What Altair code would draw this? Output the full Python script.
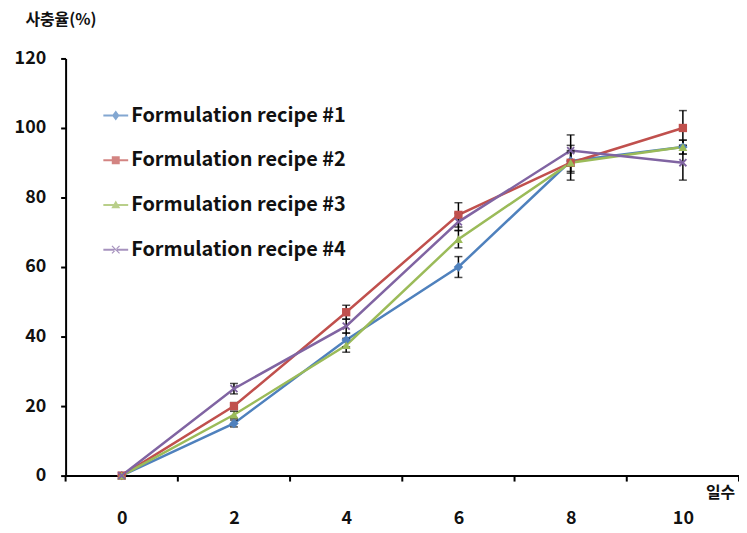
import altair as alt
import pandas as pd

# ---- data ----
days = [0, 2, 4, 6, 8, 10]
series_names = ["Formulation recipe #1", "Formulation recipe #2",
                "Formulation recipe #3", "Formulation recipe #4"]
recipe1 = [0, 15, 39, 60, 90.5, 94.5]
recipe2 = [0, 20, 47, 75, 90, 100]
recipe3 = [0, 17.5, 37.5, 68, 90, 94.5]
recipe4 = [0, 25, 43, 73, 93.5, 90]
err1 = [0, 1, 2, 3, 3, 2]
err2 = [0, 1, 2, 3.5, 5, 5]
err3 = [0, 1, 2, 2.5, 3, 2]
err4 = [0, 1.5, 2, 2.5, 4.5, 5]
category_bounds = [-1, 1, 3, 5, 7, 9, 11]
y_ticks = [0, 20, 40, 60, 80, 100, 120]

rows = []
for name, vals, errs in zip(series_names, [recipe1, recipe2, recipe3, recipe4],
                            [err1, err2, err3, err4]):
    for d, v, e in zip(days, vals, errs):
        rows.append({"day": d, "value": v, "err": e, "series": name,
                     "lo": v - e, "hi": v + e})
df = pd.DataFrame(rows)
bounds_df = pd.DataFrame({"day": category_bounds})

FONT = "Noto Sans CJK KR"
colors = ["#4F81BD", "#C0504D", "#9BBB59", "#8064A2"]
color_scale = alt.Scale(domain=series_names, range=colors)
x_scale = alt.Scale(domain=[-1, 11], nice=False, zero=False)
y_scale = alt.Scale(domain=[0, 120], nice=False)

x_axis = alt.Axis(values=days, ticks=False, grid=False, title="일수",
                  labelPadding=34, labelFont=FONT, labelFontSize=18,
                  labelFontWeight="bold", labelColor="#111",
                  titleFont=FONT, titleFontSize=16, titleFontWeight="bold",
                  titleColor="#111", titleX=659, titleY=17,
                  titleAlign="center", titleBaseline="middle",
                  domainColor="black", domainWidth=2)
y_axis = alt.Axis(values=y_ticks, grid=False, tickSize=5, tickColor="black",
                  tickWidth=2, labelPadding=15, labelFont=FONT,
                  labelFontSize=18, labelFontWeight="bold", labelColor="#111",
                  title="사충율(%)", titleAngle=0, titleAlign="left",
                  titleBaseline="middle", titleX=-41, titleY=-39,
                  titleFont=FONT, titleFontSize=16, titleFontWeight="bold",
                  titleColor="#111", domainColor="black", domainWidth=2)

X = alt.X("day:Q", scale=x_scale, axis=x_axis)
Y = alt.Y("value:Q", scale=y_scale, axis=y_axis)

# legend symbols: a short line with the marker in the middle
legend_paths = [
    "M-1,-0.08H1V0.08H-1Z M0,-0.4L0.3,0L0,0.4L-0.3,0Z",
    "M-1,-0.08H1V0.08H-1Z M-0.32,-0.32H0.32V0.32H-0.32Z",
    "M-1,-0.08H1V0.08H-1Z M0,-0.36L0.36,0.26H-0.36Z",
    "M-1,-0.08H1V0.08H-1Z M-0.34,-0.27L-0.27,-0.34L0.34,0.27L0.27,0.34Z M-0.34,0.27L-0.27,0.34L0.34,-0.27L0.27,-0.34Z",
]
legend = alt.Legend(title=None, orient="none", legendX=38, legendY=45,
                    symbolSize=625, symbolStrokeWidth=0, rowPadding=22,
                    labelOffset=3, labelFont=FONT, labelFontSize=20,
                    labelFontWeight="bold", labelColor="#111", labelLimit=400)

# legend-only layer: its marks sit outside the x domain and are clipped away
legend_layer = alt.Chart(df).transform_calculate(
    off="datum.day + 1000"
).mark_point(filled=True, clip=True, size=10).encode(
    x=alt.X("off:Q", scale=x_scale, axis=x_axis), y=Y,
    color=alt.Color("series:N", scale=color_scale, legend=legend),
    shape=alt.Shape("series:N", scale=alt.Scale(domain=series_names, range=legend_paths),
                    legend=legend),
)

lines = alt.Chart(df).mark_line(strokeWidth=2.5).encode(
    x=X, y=Y, color=alt.Color("series:N", scale=color_scale),
)

err_df_filter = alt.datum.err > 0
err_rules = alt.Chart(df).transform_filter(err_df_filter).mark_rule(
    color="black", strokeWidth=1.5).encode(
    x=X, y=alt.Y("lo:Q", scale=y_scale, axis=y_axis), y2="hi:Q")
err_lo = alt.Chart(df).transform_filter(err_df_filter).mark_tick(
    color="black", orient="horizontal", size=8, thickness=1.5).encode(
    x=X, y=alt.Y("lo:Q", scale=y_scale, axis=y_axis))
err_hi = alt.Chart(df).transform_filter(err_df_filter).mark_tick(
    color="black", orient="horizontal", size=8, thickness=1.5).encode(
    x=X, y=alt.Y("hi:Q", scale=y_scale, axis=y_axis))

marker_shapes = ["diamond", "square", "triangle-up", "M-1,-1L1,1M-1,1L1,-1"]
marker_filled = [True, True, True, False]
marker_sizes = [90, 70, 80, 50]
point_layers = []
for name, shp, fl, sz, col in zip(series_names, marker_shapes, marker_filled,
                                  marker_sizes, colors):
    point_layers.append(
        alt.Chart(df).transform_filter(alt.datum.series == name).mark_point(
            shape=shp, filled=fl, size=sz, color=col, opacity=1,
            strokeWidth=1.8).encode(x=X, y=Y)
    )

bound_ticks = alt.Chart(bounds_df).mark_rule(color="black", strokeWidth=2).encode(
    x=X, y=alt.value(420), y2=alt.value(426),
)

chart = alt.layer(legend_layer, lines, err_rules, err_lo, err_hi,
                  *point_layers, bound_ticks).properties(
    width=678, height=420,
    autosize=alt.AutoSizeParams(type="none"),
    padding={"left": 58, "top": 49, "right": 0, "bottom": 56},
    background="white",
).configure_view(stroke=None)

chart.save("out.html", embed_options={"renderer": "svg", "actions": False})
